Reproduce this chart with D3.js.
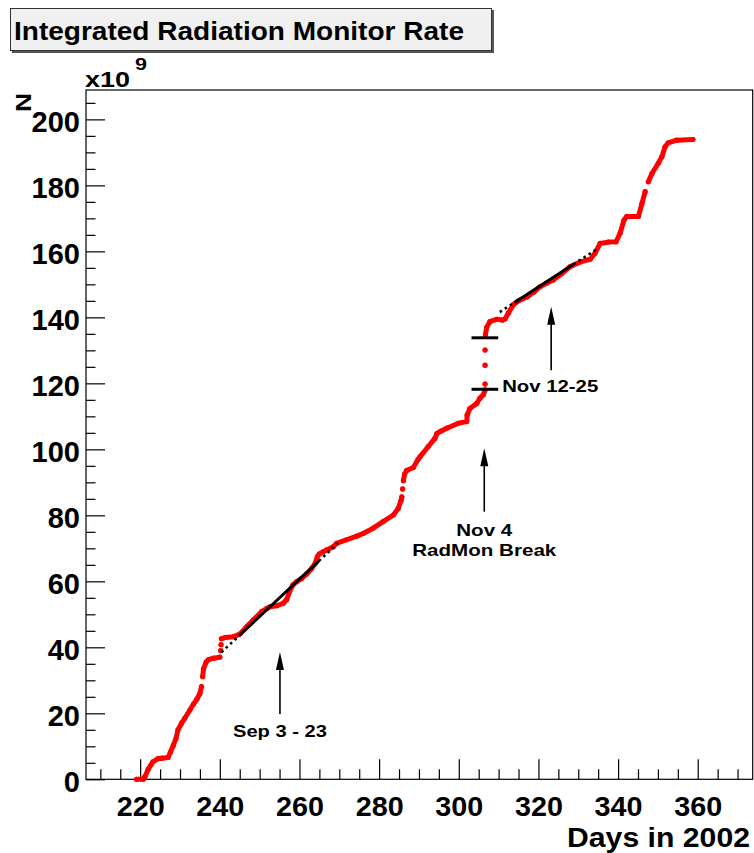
<!DOCTYPE html>
<html>
<head>
<meta charset="utf-8">
<script src="https://cdn.jsdelivr.net/npm/d3@7/dist/d3.min.js"></script>
<style>
  html, body { margin: 0; padding: 0; background: #fff; }
  svg { display: block; }
  text { font-family: "Liberation Sans", Arial, Helvetica, sans-serif; font-weight: bold; fill: #000; }
</style>
</head>
<body>
<svg id="chart" width="754" height="853"></svg>
<script>
// Integrated radiation monitor counts (units of 1e9) versus day of year 2002.
// null entries separate continuous stretches of the record.
const days = [
  219.1, 220.8, 221.2, 222.0, 223.2, 224.4, 225.5, 227.0, 227.6, 228.3, 229.0, 229.5,
  230.4, 231.2, 232.5, 233.4, 234.2, 235.0, 235.4, null,
  235.7, 235.9, 236.6, 237.2, 238.5, 240.0, null,
  240.2, null, 240.3, null,
  240.4, 241.5, 243.4, 245.0, 246.7, 248.4, 250.5, 251.8, 252.6, 254.3, 255.9, 256.8,
  257.6, 258.4, 259.3, 260.5, 261.8, 263.0, 263.9, 264.5, 265.0, 266.0, 266.8, 268.5,
  269.3, 271.8, 274.4, 276.0, 278.5, 281.0, 283.6, 284.8, 285.5, 285.7, null,
  285.9, null,
  286.1, 286.4, 286.9, 288.6, 289.8, 290.3, 292.3, 294.0, 294.5, 295.5, 297.0, 299.9,
  302.0, 302.1, 302.8, 304.5, 305.3, 306.2, 306.6, null,
  306.6, null, 306.6, null, 306.6, null,
  306.7, 307.0, 307.8, 309.5, 311.0, 311.6, 312.4, 313.7, 315.0, 317.1, 318.8, 320.4,
  322.0, 323.7, 325.8, 327.9, 330.5, 333.0, 334.2, 335.5, 337.5, 339.5, 340.5, 341.5,
  342.2, 345.1, 346.0, 346.8, null,
  347.6, 348.5, 350.1, 351.0, 351.8, 352.6, 354.7, 358.8
];
const counts = [
  0.0, 0.0, 0.8, 3.0, 5.3, 6.2, 6.4, 6.6, 8.2, 10.2, 12.4, 15.0,
  17.0, 18.5, 21.0, 22.8, 24.2, 26.0, 28.1, null,
  31.1, 33.5, 35.6, 36.3, 36.7, 37.0, null,
  39.0, null, 40.8, null,
  42.6, 43.0, 43.2, 44.0, 46.2, 48.3, 50.8, 51.8, 52.3, 52.6, 53.3, 54.5,
  57.2, 59.0, 59.9, 60.8, 62.2, 63.8, 65.3, 67.5, 68.3, 69.0, 69.5, 70.5,
  71.5, 72.6, 73.7, 74.5, 76.1, 78.1, 80.1, 82.1, 84.5, 85.6, null,
  88.0, null,
  90.5, 92.5, 93.6, 94.5, 97.0, 97.8, 100.8, 103.3, 104.8, 105.5, 106.4, 107.9,
  108.4, 110.4, 112.4, 113.9, 115.5, 116.6, 118.0, null,
  119.8, null, 125.5, null, 130.1, null,
  134.8, 137.0, 138.7, 139.4, 139.2, 139.5, 141.2, 143.8, 145.0, 146.2, 147.6, 149.3,
  150.3, 151.3, 153.2, 155.3, 156.8, 157.6, 159.4, 162.4, 162.8, 162.9, 165.5, 169.5,
  170.6, 170.6, 174.5, 178.1, null,
  181.1, 183.6, 186.7, 188.7, 191.7, 192.9, 193.7, 193.9
];

// Linear fits over Sep 3-23 and Nov 12-25: [dotted start, solid start, solid end, dotted end]
const fitSepDays = [240.4, 245.1, 264.9, 269.7];
const fitSepVals = [38.5, 43.8, 66.2, 71.6];
const fitNovDays = [310.3, 314.0, 328.8, 334.6];
const fitNovVals = [141.6, 144.5, 156.1, 160.6];

// Levels bracketing the RadMon break
const breakDays = [303.2, 309.9];
const breakLevels = [133.8, 118.2];

// Axis ticks
const xMajorTicks = [220, 240, 260, 280, 300, 320, 340, 360];
const yMajorTicks = [0, 20, 40, 60, 80, 100, 120, 140, 160, 180, 200];

// Annotated periods: arrow day, arrow bottom / tip levels, label lines
const notes = [
  { day: 255.1, from: 19.8, to: 38.6, lines: ["Sep 3 - 23"], textDay: 255.1, textVal: 12.8, anchor: "middle", widths: [94] },
  { day: 306.4, from: 81.1, to: 100.3, lines: ["Nov 4", "RadMon Break"], textDay: 306.4, textVal: 73.7, anchor: "middle", widths: [56, 144] },
  { day: 323.2, from: 124.0, to: 143.2, lines: ["Nov 12-25"], textDay: 310.9, textVal: 117.4, anchor: "start", widths: [96] }
];

const svg = d3.select("#chart");

const x = d3.scaleLinear().domain([206.4, 373.8]).range([86, 752.7]);
const y = d3.scaleLinear().domain([0, 208.9]).range([779.3, 90]);

// Title box with drop shadow
svg.append("rect").attr("x", 12).attr("y", 10).attr("width", 482).attr("height", 43).attr("fill", "#555");
svg.append("rect").attr("x", 10.5).attr("y", 8.5).attr("width", 481).attr("height", 42)
  .attr("fill", "#f0f0f0").attr("stroke", "#333").attr("stroke-width", 1);
svg.append("text").attr("x", 14).attr("y", 39.5).attr("font-size", 25)
  .attr("textLength", 450).attr("lengthAdjust", "spacingAndGlyphs")
  .text("Integrated Radiation Monitor Rate");

// Frame
svg.append("rect").attr("x", 86).attr("y", 90).attr("width", 752.7 - 86).attr("height", 779.3 - 90)
  .attr("fill", "none").attr("stroke", "#000").attr("stroke-width", 1.2);

// X axis: minor ticks every 5 days, major every 20
const xMinor = d3.range(210, 374, 5).filter(v => v % 20 !== 0);
svg.append("g").attr("transform", `translate(0,${y(0)})`)
  .call(d3.axisBottom(x).tickValues(xMinor).tickSize(-10).tickSizeOuter(0).tickFormat(""))
  .call(g => g.select(".domain").remove())
  .selectAll("line").attr("stroke", "#000").attr("stroke-width", 1.2);
const gx = svg.append("g").attr("transform", `translate(0,${y(0)})`)
  .call(d3.axisBottom(x).tickValues(xMajorTicks).tickSize(-20).tickSizeOuter(0).tickPadding(16.5).tickFormat(d3.format("d")));
gx.select(".domain").remove();
gx.selectAll("line").attr("stroke", "#000").attr("stroke-width", 1.2);
gx.selectAll("text").attr("font-size", 28).attr("font-family", null).attr("font-weight", "bold").attr("fill", "#000")
  .attr("textLength", 48).attr("lengthAdjust", "spacingAndGlyphs");

// Y axis: minor ticks every 5, major every 20
const yMinor = d3.range(5, 209, 5).filter(v => v % 20 !== 0);
svg.append("g").attr("transform", `translate(${x.range()[0]},0)`)
  .call(d3.axisLeft(y).tickValues(yMinor).tickSize(-9.5).tickSizeOuter(0).tickFormat(""))
  .call(g => g.select(".domain").remove())
  .selectAll("line").attr("stroke", "#000").attr("stroke-width", 1.2);
const gy = svg.append("g").attr("transform", `translate(${x.range()[0]},0)`)
  .call(d3.axisLeft(y).tickValues(yMajorTicks).tickSize(-19).tickSizeOuter(0).tickPadding(6).tickFormat(d3.format("d")));
gy.select(".domain").remove();
gy.selectAll("line").attr("stroke", "#000").attr("stroke-width", 1.2);
gy.selectAll("text").attr("font-size", 29).attr("dy", "0.42em").attr("font-family", null).attr("font-weight", "bold").attr("fill", "#000");

// Axis titles
svg.append("text").attr("x", 750).attr("y", 846.5).attr("font-size", 27).attr("text-anchor", "end")
  .attr("textLength", 183).attr("lengthAdjust", "spacingAndGlyphs").text("Days in 2002");
svg.append("text").attr("x", 85).attr("y", 87.3).attr("font-size", 22)
  .attr("textLength", 45).attr("lengthAdjust", "spacingAndGlyphs").text("x10");
svg.append("text").attr("x", 135).attr("y", 70).attr("font-size", 17)
  .attr("textLength", 12).attr("lengthAdjust", "spacingAndGlyphs").text("9");
svg.append("text").attr("transform", "translate(31,112) rotate(-90) scale(1.2,1)").attr("font-size", 22)
  .text("N");

// Data
const pts = days.map((d, i) => ({ d: d, v: counts[i] }));
const line = d3.line().defined(p => p.d !== null && p.v !== null).x(p => x(p.d)).y(p => y(p.v));
svg.append("path").datum(pts).attr("d", line)
  .attr("fill", "none").attr("stroke", "#ff0000").attr("stroke-width", 5)
  .attr("stroke-linecap", "round").attr("stroke-linejoin", "round");
svg.append("g").selectAll("circle").data(pts.filter(p => p.d !== null && p.v !== null)).join("circle")
  .attr("cx", p => x(p.d)).attr("cy", p => y(p.v)).attr("r", 2.6).attr("fill", "#ff0000");

// Fit lines: solid over the fit range, dotted extrapolation on both ends
function drawFit(ds, vs) {
  const seg = (a, b) => [[x(ds[a]), y(vs[a])], [x(ds[b]), y(vs[b])]];
  const l = d3.line();
  svg.append("path").attr("d", l(seg(0, 1))).attr("stroke", "#000").attr("stroke-width", 2.6)
    .attr("stroke-dasharray", "2.5,3.5").attr("fill", "none");
  svg.append("path").attr("d", l(seg(1, 2))).attr("stroke", "#000").attr("stroke-width", 3).attr("fill", "none");
  svg.append("path").attr("d", l(seg(2, 3))).attr("stroke", "#000").attr("stroke-width", 2.6)
    .attr("stroke-dasharray", "2.5,3.5").attr("fill", "none");
}
drawFit(fitSepDays, fitSepVals);
drawFit(fitNovDays, fitNovVals);

// Break levels
svg.append("g").selectAll("line").data(breakLevels).join("line")
  .attr("x1", x(breakDays[0])).attr("x2", x(breakDays[1]))
  .attr("y1", v => y(v)).attr("y2", v => y(v))
  .attr("stroke", "#000").attr("stroke-width", 3);

// Annotation arrows and labels
notes.forEach(n => {
  const ax = x(n.day), yb = y(n.from), yt = y(n.to);
  svg.append("line").attr("x1", ax).attr("x2", ax).attr("y1", yb).attr("y2", yt + 10)
    .attr("stroke", "#000").attr("stroke-width", 1.6);
  svg.append("path").attr("d", `M${ax},${yt} L${ax - 4},${yt + 18} L${ax + 4},${yt + 18} Z`).attr("fill", "#000");
  n.lines.forEach((t, i) => {
    svg.append("text").attr("x", x(n.textDay)).attr("y", y(n.textVal) + i * 20)
      .attr("font-size", 17).attr("text-anchor", n.anchor)
      .attr("textLength", n.widths[i]).attr("lengthAdjust", "spacingAndGlyphs").text(t);
  });
});
</script>
</body>
</html>
